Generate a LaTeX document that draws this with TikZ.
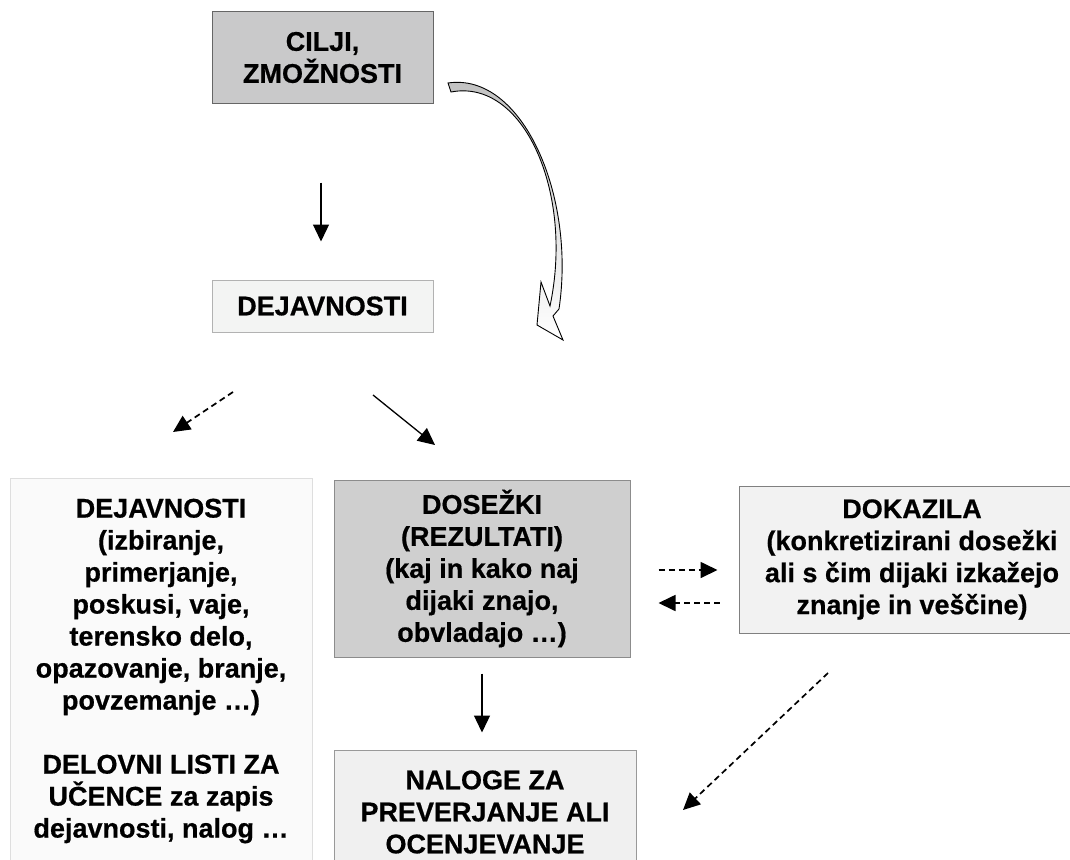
\documentclass[tikz,border=0pt]{standalone}
\usepackage{fontspec}
\setmainfont{Liberation Sans}[BoldFeatures={FakeBold=0.6}]
\usetikzlibrary{arrows.meta,positioning}
\definecolor{darkbox}{RGB}{201,201,202}
\definecolor{lightbox}{RGB}{243,244,243}
\tikzset{
  box/.style={
    draw, line width=1pt, inner sep=0pt,
    align=center, font=\fontsize{27}{32}\selectfont\bfseries
  },
  darkbox/.style={box, fill=darkbox, draw=black!60},
  lightbox/.style={box, fill=lightbox, draw=black!30},
  arrow/.style={-{Triangle[length=17pt,width=16pt]}, line width=1.3pt},
  dasharrow/.style={arrow, line width=1.7pt, dash pattern=on 6pt off 4pt}
}

\begin{document}
\begin{tikzpicture}[x=1pt, y=-1pt]
\useasboundingbox (0,0) rectangle (1070,859);
\clip (0,0) rectangle (1070,859);

% ---------- top ----------
\node[darkbox, minimum width=221pt, minimum height=91pt] (cilji) at (322.5,57.5)
  {CILJI,\\ZMOŽNOSTI};
\node[lightbox, minimum width=221pt, minimum height=52pt] (dej) at (322.5,306)
  {DEJAVNOSTI};
\draw[arrow, shorten <=79pt, shorten >=38pt] ([xshift=-1.5pt]cilji.south) -- ([xshift=-1.5pt]cilji.south |- dej.north);

% ---------- middle row ----------
\node[lightbox, fill=black!2, draw=black!13, minimum width=302pt, minimum height=386pt] (akt) at (161,671)
  {DEJAVNOSTI\\(izbiranje,\\primerjanje,\\poskusi, vaje,\\terensko delo,\\opazovanje, branje,\\povzemanje \dots)\\[32pt]
   DELOVNI LISTI ZA\\UČENCE za zapis\\dejavnosti, nalog \dots};
\node[darkbox, fill=black!19, draw=black!45, minimum width=296pt, minimum height=177pt] (dosezki) at (482,568.5)
  {DOSEŽKI\\(REZULTATI)\\(kaj in kako naj\\dijaki znajo,\\obvladajo \dots)};
\node[lightbox, fill=black!5, draw=black!50, minimum width=346pt, minimum height=147pt] (dokazila) at (912,559.5)
  {DOKAZILA\\(konkretizirani dosežki\\ali s čim dijaki izkažejo\\znanje in veščine)};
\node[lightbox, fill=black!6, draw=black!40, minimum width=302pt, minimum height=124pt] (naloge) at (485,812)
  {NALOGE ZA\\PREVERJANJE ALI\\OCENJEVANJE};

% ---------- connectors ----------
\coordinate (d1) at (233,392);
\coordinate (d2) at (173,432);
\coordinate (s1) at (373,395);
\coordinate (s2) at (435,445);
\coordinate (k1) at (828,673);
\coordinate (k2) at (683,810);
\draw[dasharrow] (d1) -- (d2);
\draw[arrow] (s1) -- (s2);
\draw[dasharrow, shorten <=28pt, shorten >=21pt] ([yshift=-1.5pt]dosezki.east) -- ([yshift=-1.5pt]dosezki.east -| dokazila.west);
\draw[dasharrow, shorten <=19pt, shorten >=28pt] ([yshift=-43.5pt]dokazila.west) -- ([yshift=-43.5pt]dokazila.west -| dosezki.east);
\draw[arrow, shorten <=16pt, shorten >=17pt] (dosezki.south) -- (dosezki.south |- naloge.north);
\draw[dasharrow] (k1) -- (k2);

% ---------- curved hollow arrow ----------
\draw[line width=0.9pt, top color=black!25, bottom color=white, line join=miter]
  (448,83) .. controls (522,72) and (576,195) .. (559,309)
  -- (553,316) -- (563,340) -- (537,325) -- (541,282) -- (550,306)
  .. controls (574,193) and (524,78) .. (451,92) -- cycle;

\end{tikzpicture}
\end{document}
